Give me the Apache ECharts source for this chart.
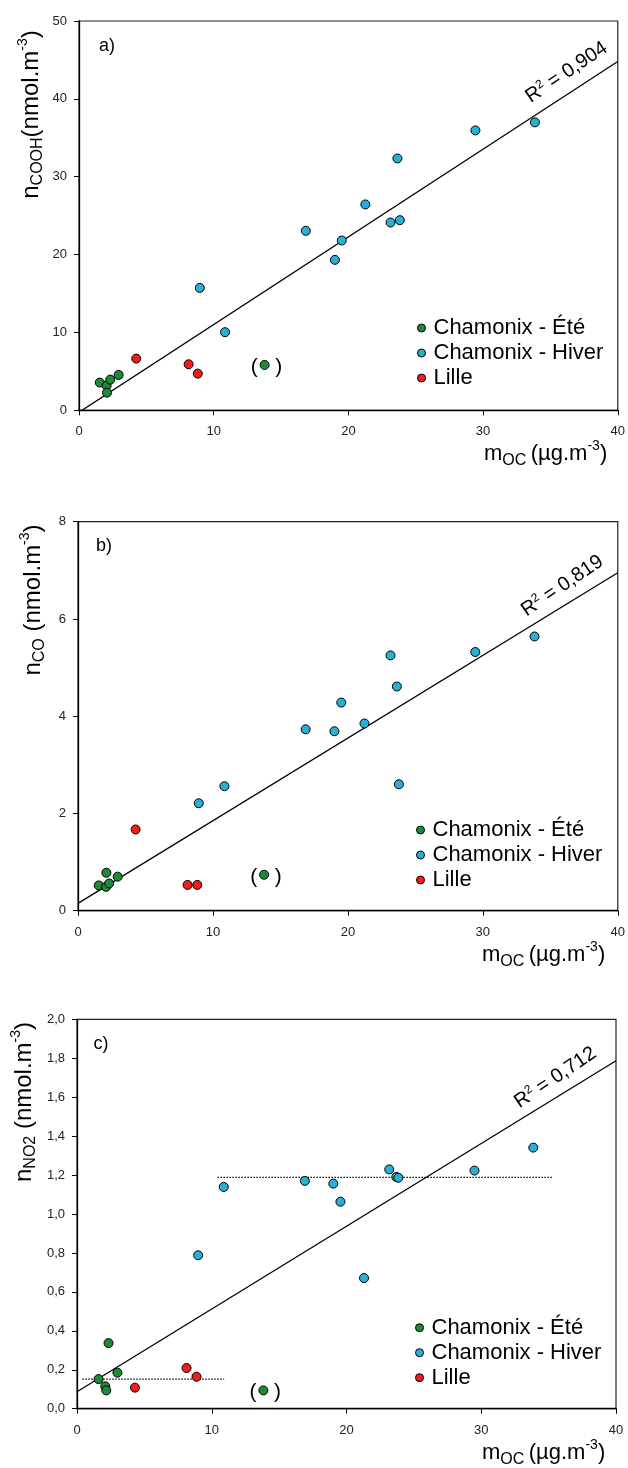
<!DOCTYPE html>
<html><head><meta charset="utf-8">
<script src="https://cdn.jsdelivr.net/npm/echarts@6/dist/echarts.min.js"></script>
<style>html,body{margin:0;padding:0;background:#fff}#c{width:628px;height:1468px}</style>
</head><body><div id="c"></div>
<script>
// ---------- DATA ----------
const groupNames = ['Chamonix - Été', 'Chamonix - Hiver', 'Lille'];
const groupColors = ['#1d8a3a', '#29afd6', '#f51b1b'];
const panelLetters = ['a)', 'b)', 'c)'];

// m_OC (µg.m-3) vs n (nmol.m-3); last summer point is the bracketed outlier
const eteA   = [[1.54,3.56],[2.05,3.17],[2.08,2.27],[2.32,3.94],[2.94,4.54],[13.78,5.83]];
const hiverA = [[8.97,15.72],[10.84,10.03],[16.84,23.05],[19.0,19.32],[19.51,21.81],[21.26,26.44],[23.13,24.12],[23.64,32.35],[23.82,24.42],[29.43,35.95],[33.85,36.98]];
const lilleA = [[4.25,6.64],[8.14,5.91],[8.82,4.71]];

const eteB   = [[1.54,0.52],[2.10,0.78],[2.08,0.49],[2.31,0.56],[2.94,0.70],[13.79,0.74]];
const hiverB = [[8.95,2.21],[10.85,2.56],[16.87,3.73],[19.0,3.69],[19.51,4.28],[21.23,3.85],[23.16,5.25],[23.63,4.61],[23.78,2.60],[29.44,5.32],[33.83,5.64]];
const lilleB = [[4.27,1.67],[8.12,0.53],[8.84,0.53]];

const eteC   = [[1.60,0.152],[2.10,0.115],[2.17,0.094],[2.34,0.337],[3.0,0.185],[13.83,0.094]];
const hiverC = [[8.99,0.788],[10.89,1.139],[16.91,1.170],[19.02,1.156],[19.55,1.063],[21.3,0.671],[23.17,1.229],[23.7,1.190],[23.85,1.186],[29.5,1.223],[33.86,1.341]];
const lilleC = [[4.3,0.108],[8.13,0.209],[8.87,0.164]];

const outlierIndex = 5;

const fitSlope = [1.126, 0.170, 0.0425];
const fitIntercept = [-0.25, 0.15, 0.087];
const r2Values = ['0,904', '0,819', '0,712'];

const yMaxes = [50, 8, 2];
const yIntervals = [10, 2, 0.2];
const xMax = 40, xInterval = 10;

// dotted mean lines (panel c): [xStart, xEnd, y]
const meanLinesC = [[10.42, 35.25, 1.188], [0.39, 10.92, 0.152]];

// ---------- LAYOUT ----------
const FONT = 'Liberation Sans, Arial, sans-serif';
const grids = [
  {left: 79, top: 21, width: 540, height: 389.3},
  {left: 78, top: 521.7, width: 540, height: 389},
  {left: 77, top: 1019.3, width: 539, height: 389.4}
];
const legendPos = [[417, 315.5], [416, 817.5], [415, 1315.2]];
const r2Pos = [[36.2, 43.4], [35.9, 6.68], [35.5, 1.70]];
const letterPos = [[107, 46], [104, 546], [101, 1044]];
const yTitlePos = [[31, 114.5], [33, 600], [24, 1102]];
const yTitleSub = ['COOH', 'CO', 'NO2'];
const yTitleSpace = ['', ' ', ' '];
const xTitlePos = [[484, 454], [482, 954.7], [482, 1452.7]];

const panels = [[eteA, hiverA, lilleA], [eteB, hiverB, lilleB], [eteC, hiverC, lilleC]];

const option = {
  animation: false,
  backgroundColor: '#fff',
  textStyle: {fontFamily: FONT},
  grid: grids.map(g => Object.assign({show: true, borderColor: '#222', borderWidth: 1.2, backgroundColor: 'transparent'}, g)),
  xAxis: grids.map((g, i) => ({
    type: 'value', gridIndex: i, min: 0, max: xMax, interval: xInterval,
    axisLine: {show: true, onZero: false, lineStyle: {color: '#000', width: 1.3}},
    axisTick: {show: true, inside: false, length: 5, lineStyle: {color: '#000', width: 1}},
    axisLabel: {fontSize: 13, color: '#222', margin: 15, fontFamily: FONT},
    splitLine: {show: false}
  })),
  yAxis: grids.map((g, i) => ({
    type: 'value', gridIndex: i, min: 0, max: yMaxes[i], interval: yIntervals[i],
    axisLine: {show: true, onZero: false, lineStyle: {color: '#000', width: 1.3}},
    axisTick: {show: true, inside: false, length: 5, lineStyle: {color: '#000', width: 1}},
    axisLabel: {fontSize: 13, color: '#222', margin: 12, fontFamily: FONT,
      formatter: i === 2 ? (v => v.toFixed(1).replace('.', ',')) : (v => String(v))},
    splitLine: {show: false}
  })),
  legend: legendPos.map(p => ({
    orient: 'vertical', left: p[0], top: p[1], padding: 0, itemGap: 0,
    itemWidth: 8, itemHeight: 8, icon: 'circle',
    itemStyle: {borderColor: '#000', borderWidth: 1},
    textStyle: {fontSize: 22, lineHeight: 25, color: '#000', fontFamily: FONT, padding: [0, 0, 0, 3]},
    data: groupNames, selectedMode: false
  })),
  series: [],
  graphic: []
};

panels.forEach((groups, p) => {
  // regression line
  option.series.push({
    type: 'line', xAxisIndex: p, yAxisIndex: p, symbol: 'none', clip: true,
    data: [[0, fitIntercept[p]], [xMax, fitIntercept[p] + fitSlope[p] * xMax]],
    lineStyle: {color: '#000', width: 1.3}, z: 2,
    markPoint: {
      symbol: 'circle', symbolSize: 0, silent: true,
      data: [{coord: r2Pos[p], label: {
        show: true, position: 'inside', rotate: 34,
        formatter: '{r|R}{s|2}{r| = ' + r2Values[p] + '}',
        rich: {r: {fontSize: 20, color: '#000', fontFamily: FONT, lineHeight: 22},
               s: {fontSize: 12, color: '#000', fontFamily: FONT, verticalAlign: 'top', lineHeight: 12}}
      }}]
    }
  });
  if (p === 2) {
    meanLinesC.forEach(m => option.series.push({
      type: 'line', xAxisIndex: p, yAxisIndex: p, symbol: 'none',
      data: [[m[0], m[2]], [m[1], m[2]]],
      lineStyle: {color: '#000', width: 1.2, type: [1.5, 1.5]}, z: 2
    }));
  }
  groups.forEach((pts, g) => {
    option.series.push({
      name: groupNames[g], type: 'scatter', xAxisIndex: p, yAxisIndex: p,
      symbol: 'circle', symbolSize: 9, z: 3,
      itemStyle: {color: groupColors[g], borderColor: '#000', borderWidth: 1, opacity: 1},
      data: pts.map((d, k) => (g === 0 && k === outlierIndex) ? {
        value: d,
        label: {show: true, position: 'inside', formatter: '(   )', fontSize: 21, color: '#000', offset: [2, 2], fontFamily: FONT}
      } : d)
    });
  });
  // panel letter
  option.graphic.push({type: 'text', x: letterPos[p][0], y: letterPos[p][1],
    style: {text: panelLetters[p], fontSize: 18, fill: '#000', fontFamily: FONT, align: 'center', verticalAlign: 'middle'}});
  // y title
  option.graphic.push({type: 'text', x: yTitlePos[p][0], y: yTitlePos[p][1], rotation: Math.PI / 2,
    style: {
      text: '{m|n}{b|' + yTitleSub[p] + '}{m|' + yTitleSpace[p] + '(nmol.m}{t|-3}{m|)}',
      align: 'center', verticalAlign: 'middle', fill: '#000', fontFamily: FONT,
      rich: {
        m: {fontSize: 24, lineHeight: 30, fill: '#000', fontFamily: FONT},
        b: {fontSize: 16, lineHeight: 16, verticalAlign: 'bottom', fill: '#000', fontFamily: FONT},
        t: {fontSize: 14, lineHeight: 14, verticalAlign: 'top', fill: '#000', fontFamily: FONT}
      }
    }});
  // x title
  option.graphic.push({type: 'text', x: xTitlePos[p][0], y: xTitlePos[p][1],
    style: {
      text: '{m|m}{b|OC }{m|(µg.m}{t|-3}{m|)}',
      align: 'left', verticalAlign: 'middle', fill: '#000', fontFamily: FONT,
      rich: {
        m: {fontSize: 22, lineHeight: 30, fill: '#000', fontFamily: FONT},
        b: {fontSize: 16, lineHeight: 16, verticalAlign: 'bottom', fill: '#000', fontFamily: FONT},
        t: {fontSize: 14, lineHeight: 14, verticalAlign: 'top', fill: '#000', fontFamily: FONT}
      }
    }});
});

const chart = echarts.init(document.getElementById('c'), null, {renderer: 'canvas'});
chart.setOption(option);
</script></body></html>
